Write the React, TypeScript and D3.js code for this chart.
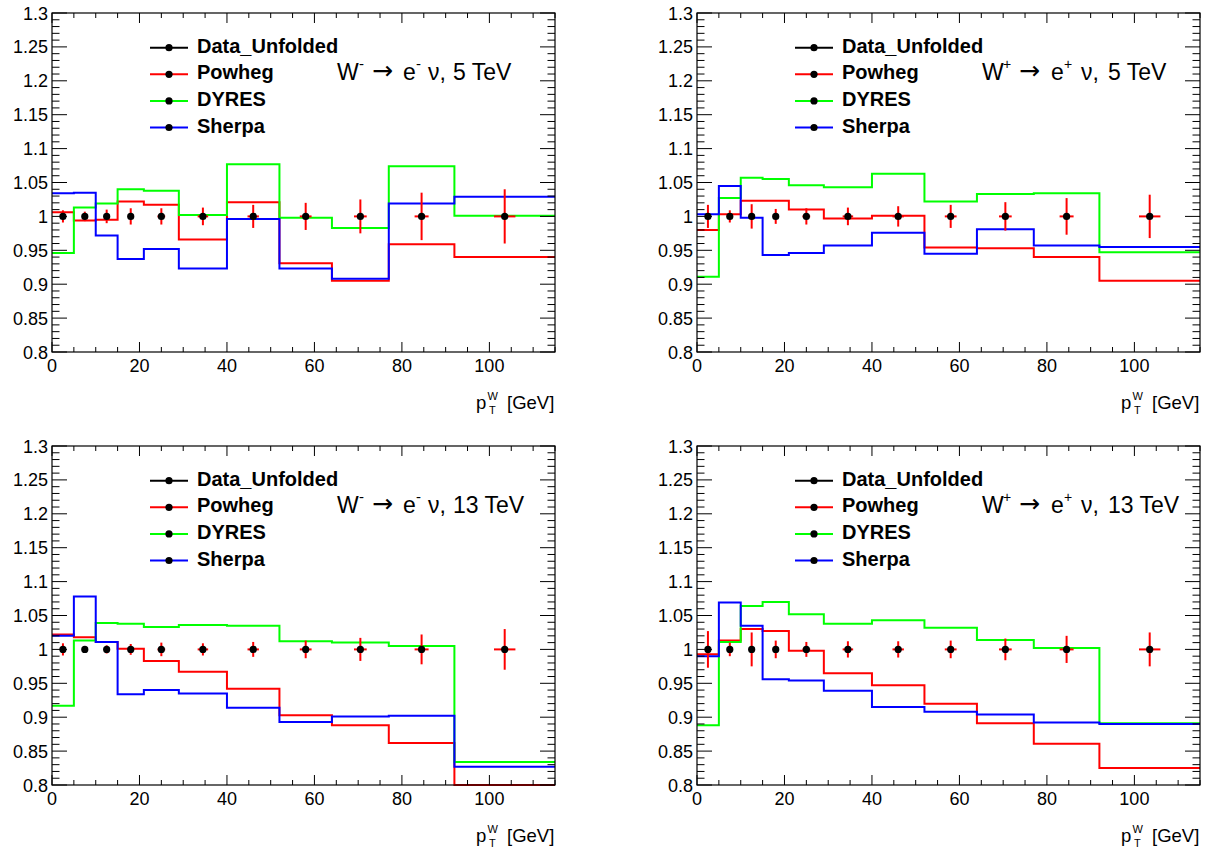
import React from 'react';
import * as d3 from 'd3';

// ---- shared binning / data points ----
const binEdges = [0, 5, 10, 15, 21, 29, 40, 52, 64, 77, 92, 115];
const dataX = [2.5, 7.5, 12.5, 18, 25, 34.5, 46, 58, 70.5, 84.5, 103.5];
const dataXErr = [0.55, 0.55, 0.55, 0.66, 0.88, 1.2, 1.3, 1.35, 1.45, 1.6, 2.45];
const dataY = [1, 1, 1, 1, 1, 1, 1, 1, 1, 1, 1];

const xTickMajor = [0, 20, 40, 60, 80, 100];
const xTickLabels = ['0', '20', '40', '60', '80', '100'];
const yTickMajor = [0.8, 0.85, 0.9, 0.95, 1.0, 1.05, 1.1, 1.15, 1.2, 1.25, 1.3];
const yTickLabels = ['0.8', '0.85', '0.9', '0.95', '1', '1.05', '1.1', '1.15', '1.2', '1.25', '1.3'];

const legendNames = ['Data_Unfolded', 'Powheg', 'DYRES', 'Sherpa'];
const legendColors = ['#000000', '#ff0000', '#00ff00', '#0000ff'];

// ---- W- 5 TeV ----
const powhegWm5 = [1.006, 0.994, 0.995, 1.022, 1.017, 0.966, 1.021, 0.931, 0.905, 0.959, 0.940];
const dyresWm5 = [0.946, 1.013, 1.019, 1.040, 1.038, 1.002, 1.077, 0.998, 0.983, 1.074, 1.001];
const sherpaWm5 = [1.034, 1.035, 0.972, 0.937, 0.952, 0.923, 0.996, 0.923, 0.908, 1.019, 1.029];
const errWm5 = [0.009, 0.007, 0.01, 0.012, 0.012, 0.013, 0.017, 0.02, 0.025, 0.035, 0.04];

// ---- W+ 5 TeV ----
const powhegWp5 = [0.980, 1.003, 1.023, 1.023, 1.010, 0.997, 1.001, 0.954, 0.953, 0.940, 0.905];
const dyresWp5 = [0.911, 1.027, 1.057, 1.055, 1.046, 1.043, 1.063, 1.022, 1.033, 1.034, 0.947];
const sherpaWp5 = [1.003, 1.045, 0.998, 0.943, 0.946, 0.957, 0.976, 0.945, 0.981, 0.957, 0.955];
const errWp5 = [0.017, 0.009, 0.018, 0.011, 0.012, 0.013, 0.015, 0.017, 0.021, 0.027, 0.032];

// ---- W- 13 TeV ----
const powhegWm13 = [1.022, 1.018, 1.011, 1.001, 0.983, 0.967, 0.942, 0.903, 0.888, 0.862, 0.800];
const dyresWm13 = [0.917, 1.013, 1.039, 1.038, 1.033, 1.036, 1.035, 1.012, 1.010, 1.005, 0.834];
const sherpaWm13 = [1.020, 1.078, 1.011, 0.934, 0.940, 0.935, 0.914, 0.893, 0.901, 0.902, 0.827];
const errWm13 = [0.009, 0.004, 0.006, 0.008, 0.01, 0.009, 0.011, 0.013, 0.017, 0.022, 0.03];

// ---- W+ 13 TeV ----
const powhegWp13 = [0.993, 1.013, 1.030, 1.027, 0.998, 0.965, 0.947, 0.920, 0.891, 0.861, 0.825];
const dyresWp13 = [0.888, 1.011, 1.064, 1.070, 1.052, 1.038, 1.043, 1.032, 1.014, 1.002, 0.891];
const sherpaWp13 = [0.990, 1.069, 1.035, 0.956, 0.954, 0.939, 0.915, 0.908, 0.904, 0.892, 0.890];
const errWp13 = [0.027, 0.010, 0.025, 0.013, 0.011, 0.012, 0.012, 0.013, 0.016, 0.02, 0.025];

const FONT = "'Liberation Sans', Arial, Helvetica, sans-serif";

type PanelProps = {
  x0: number;
  y0: number;
  charge: string;
  energy: string;
  powheg: number[];
  dyres: number[];
  sherpa: number[];
  err: number[];
};

const W = 503;
const H = 339;

function Panel({ x0, y0, charge, energy, powheg, dyres, sherpa, err }: PanelProps) {
  const x = d3.scaleLinear().domain([0, 115]).range([x0, x0 + W]);
  const y = d3.scaleLinear().domain([0.8, 1.3]).range([y0 + H, y0]);
  const x1 = x0 + W;
  const y1 = y0 + H;

  const line = d3
    .line<[number, number]>()
    .x((d) => x(d[0]))
    .y((d) => y(d[1]))
    .curve(d3.curveStepAfter);

  const histPath = (vals: number[]) => {
    const pts: [number, number][] = vals.map((v, i) => [binEdges[i], v]);
    pts.push([binEdges[binEdges.length - 1], vals[vals.length - 1]]);
    return line(pts) || '';
  };

  const xMinor = d3.range(0, 116, 5);
  const yMinor = d3.range(80, 131, 1).map((v) => v / 100);

  const plus = charge === '+';
  const off = plus
    ? { sup1: 306, arrow: 322, e: 354, sup2: 367, nu: 384, en: 411 }
    : { sup1: 307, arrow: 320, e: 351, sup2: 364, nu: 376, en: 401 };

  return (
    <g>
      {/* histograms */}
      <path d={histPath(powheg)} fill="none" stroke="#ff0000" strokeWidth={2} />
      <path d={histPath(dyres)} fill="none" stroke="#00ff00" strokeWidth={2} />
      <path d={histPath(sherpa)} fill="none" stroke="#0000ff" strokeWidth={2} />

      {/* data error bars */}
      {dataX.map((dx, i) => (
        <g key={'e' + i}>
          <line x1={x(dx - dataXErr[i])} x2={x(dx + dataXErr[i])} y1={y(dataY[i])} y2={y(dataY[i])} stroke="#ff0000" strokeWidth={2} />
          <line x1={x(dx)} x2={x(dx)} y1={y(dataY[i] - err[i])} y2={y(dataY[i] + err[i])} stroke="#ff0000" strokeWidth={2} />
        </g>
      ))}
      {dataX.map((dx, i) => (
        <circle key={'m' + i} cx={x(dx)} cy={y(dataY[i])} r={3.6} fill="#000" />
      ))}

      {/* frame */}
      <rect x={x0} y={y0} width={W} height={H} fill="none" stroke="#000" strokeWidth={1.2} />

      {/* x ticks */}
      {xMinor.map((v) => {
        const major = v % 20 === 0;
        const len = major ? 10 : 5;
        return (
          <g key={'xt' + v}>
            <line x1={x(v)} x2={x(v)} y1={y1} y2={y1 - len} stroke="#000" strokeWidth={1} />
            <line x1={x(v)} x2={x(v)} y1={y0} y2={y0 + len} stroke="#000" strokeWidth={1} />
          </g>
        );
      })}
      {/* y ticks */}
      {yMinor.map((v, i) => {
        const major = i % 5 === 0;
        const len = major ? 15 : 7.5;
        return (
          <g key={'yt' + i}>
            <line x1={x0} x2={x0 + len} y1={y(v)} y2={y(v)} stroke="#000" strokeWidth={1} />
            <line x1={x1} x2={x1 - len} y1={y(v)} y2={y(v)} stroke="#000" strokeWidth={1} />
          </g>
        );
      })}

      {/* tick labels */}
      {xTickMajor.map((v, i) => (
        <text key={'xl' + v} x={x(v)} y={y1 + 20} textAnchor="middle" fontSize={18} fontFamily={FONT}>
          {xTickLabels[i]}
        </text>
      ))}
      {yTickMajor.map((v, i) => (
        <text key={'yl' + i} x={x0 - 4} y={y(v) + 6.5} textAnchor="end" fontSize={18} fontFamily={FONT}>
          {yTickLabels[i]}
        </text>
      ))}

      {/* x axis title */}
      <g fontFamily={FONT}>
        <text x={x1 - 79} y={y1 + 57} fontSize={18.5}>p</text>
        <text x={x1 - 67.5} y={y1 + 47.5} fontSize={11}>W</text>
        <text x={x1 - 66} y={y1 + 61.5} fontSize={11}>T</text>
        <text x={x1 - 48} y={y1 + 57} fontSize={18.5}>[GeV]</text>
      </g>

      {/* legend */}
      {legendNames.map((name, i) => {
        const ly = y0 + 34.7 + i * 26.6;
        return (
          <g key={'lg' + i}>
            <line x1={x0 + 98} x2={x0 + 136} y1={ly} y2={ly} stroke={legendColors[i]} strokeWidth={2} />
            <circle cx={x0 + 117} cy={ly} r={3.6} fill="#000" />
            <text x={x0 + 145} y={ly + 5} fontSize={20} fontWeight="bold" fontFamily={FONT}>
              {name}
            </text>
          </g>
        );
      })}

      {/* process label */}
      <g fontFamily={FONT} fontSize={23}>
        <text x={x0 + 285} y={y0 + 67}>W</text>
        <text x={x0 + off.sup1} y={y0 + 56} fontSize={plus ? 14 : 15}>{charge}</text>
        <text x={x0 + off.arrow} y={y0 + 66} fontSize={25} fontFamily="'DejaVu Sans', sans-serif">→</text>
        <text x={x0 + off.e} y={y0 + 67}>e</text>
        <text x={x0 + off.sup2} y={y0 + 56} fontSize={plus ? 14 : 15}>{charge}</text>
        <text x={x0 + off.nu} y={y0 + 67}>ν,</text>
        <text x={x0 + off.en} y={y0 + 67}>{energy} TeV</text>
      </g>
    </g>
  );
}

export default function App() {
  return (
    <svg
      width={1225}
      height={852}
      style={{ position: 'absolute', left: 0, top: 0, background: '#fff' }}
    >
      <rect x={0} y={0} width={1225} height={852} fill="#fff" />
      <Panel x0={52} y0={13} charge="-" energy="5" powheg={powhegWm5} dyres={dyresWm5} sherpa={sherpaWm5} err={errWm5} />
      <Panel x0={697} y0={13} charge="+" energy="5" powheg={powhegWp5} dyres={dyresWp5} sherpa={sherpaWp5} err={errWp5} />
      <Panel x0={52} y0={446} charge="-" energy="13" powheg={powhegWm13} dyres={dyresWm13} sherpa={sherpaWm13} err={errWm13} />
      <Panel x0={697} y0={446} charge="+" energy="13" powheg={powhegWp13} dyres={dyresWp13} sherpa={sherpaWp13} err={errWp13} />
    </svg>
  );
}
